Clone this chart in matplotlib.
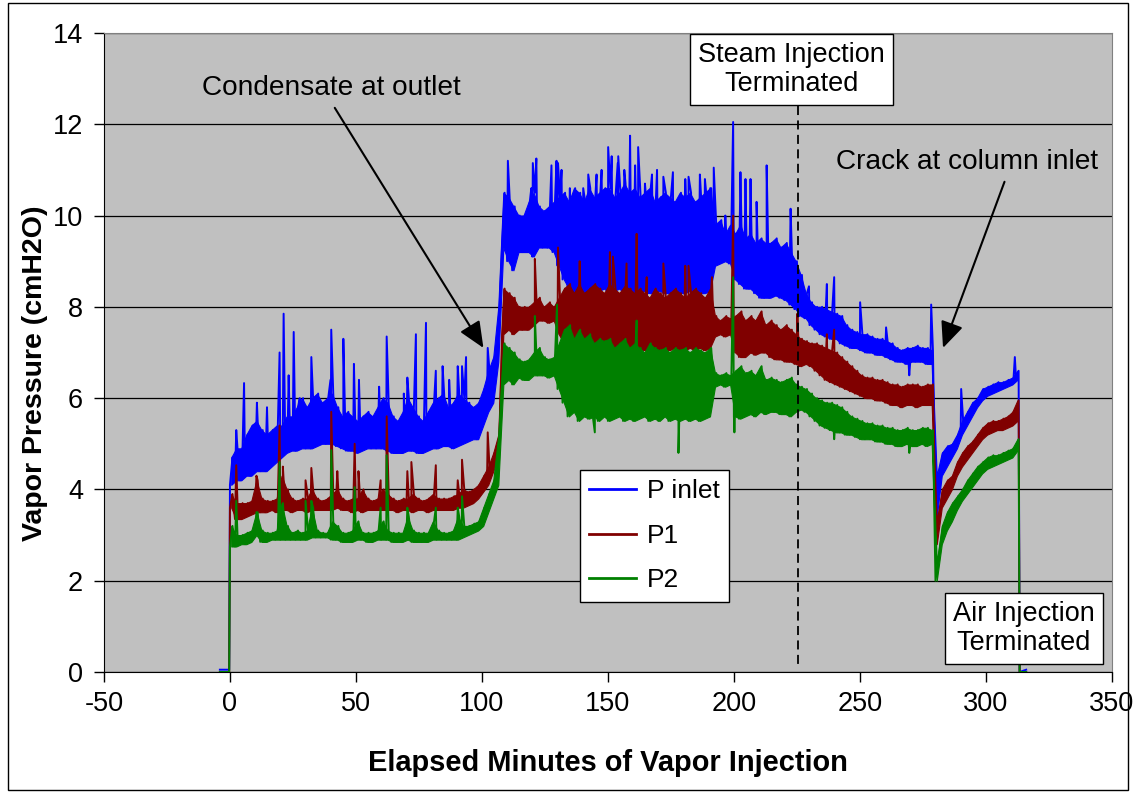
import numpy as np
import matplotlib
matplotlib.use("Agg")
import matplotlib.pyplot as plt
from matplotlib.patches import Rectangle

plt.rcParams['font.family'] = ['Liberation Sans', 'DejaVu Sans']
plt.rcParams['axes.unicode_minus'] = False

# ---------------- data ----------------
# 2-minute sample grid; at each sample the trace dips to the "lo" value,
# one minute later it reaches the "hi" value; isolated spikes listed separately.
T = np.arange(0, 313, 2)

p_inlet_lo = [
    4.1, 4.2, 4.2, 4.3, 4.3, 4.4, 4.4, 4.4, 4.5, 4.6,
    4.7, 4.8, 4.85, 4.85, 4.9, 4.9, 4.9, 4.95, 5.0, 5.0,
    5.0, 4.95, 4.9, 4.85, 4.85, 4.8, 4.85, 4.9, 4.9, 4.9,
    4.9, 4.85, 4.8, 4.8, 4.8, 4.85, 4.85, 4.8, 4.8, 4.85,
    4.9, 4.9, 4.95, 4.95, 4.9, 4.95, 5.0, 5.05, 5.1, 5.1,
    5.4, 5.7, 5.9, 6.8, 9.3, 9.0, 8.8, 9.2, 9.2, 9.2,
    9.1, 9.3, 9.3, 9.3, 9.2, 8.9, 8.6, 8.4, 8.3, 8.3,
    8.3, 8.35, 8.4, 8.35, 8.4, 8.3, 8.35, 8.4, 8.3, 8.35,
    8.3, 8.3, 8.35, 8.3, 8.3, 8.35, 8.3, 8.3, 8.35, 8.3,
    8.3, 8.35, 8.3, 8.3, 8.3, 8.35, 8.9, 8.95, 9.0, 8.95,
    8.6, 8.5, 8.4, 8.4, 8.3, 8.2, 8.2, 8.2, 8.25, 8.2,
    8.15, 8.05, 7.95, 7.8, 7.75, 7.6, 7.5, 7.4, 7.35, 7.3,
    7.3, 7.2, 7.15, 7.1, 7.1, 7.05, 7.0, 7.0, 6.95, 6.95,
    6.9, 6.85, 6.8, 6.8, 6.75, 6.8, 6.8, 6.8, 6.75, 6.75,
    3.4, 4.3, 4.5, 4.7, 4.9, 5.2, 5.4, 5.6, 5.8, 5.95,
    6.05, 6.1, 6.15, 6.2, 6.25, 6.3, 6.4,
]
p_inlet_hi = [
    4.7, 4.9, 4.9, 5.2, 5.4, 5.5, 5.3, 5.2, 5.3, 5.4,
    5.4, 5.6, 5.6, 5.8, 6.0, 5.8, 6.0, 6.1, 5.9, 6.0,
    6.1, 5.8, 5.6, 5.7, 5.6, 5.5, 5.6, 5.7, 5.6, 5.8,
    6.0, 5.9, 5.6, 5.5, 5.7, 6.0, 5.8, 5.6, 5.5, 5.7,
    5.9, 6.0, 6.1, 5.8, 5.9, 6.1, 6.0, 5.9, 5.8, 5.9,
    6.2, 6.6, 6.9, 8.0, 10.5, 10.4, 10.2, 10.0, 10.0, 10.3,
    10.5, 10.2, 10.1, 10.2, 10.3, 10.4, 10.5, 10.3, 10.6, 10.5,
    10.3, 10.6, 10.4, 10.5, 10.6, 10.6, 10.4, 10.5, 10.7, 10.5,
    10.6, 10.4, 10.5, 10.6, 10.3, 10.4, 10.5, 10.4, 10.3, 10.5,
    10.4, 10.5, 10.3, 10.4, 10.5, 10.6, 9.8, 9.9, 9.6, 9.8,
    9.6, 9.8, 9.5, 9.6, 9.4, 9.5, 9.4, 9.4, 9.5, 9.3,
    9.4, 9.2, 9.0, 8.7, 8.3, 8.1, 8.0, 8.0, 7.95, 7.9,
    7.85, 7.8, 7.6, 7.5, 7.45, 7.4, 7.4, 7.35, 7.3, 7.3,
    7.25, 7.2, 7.1, 7.05, 7.1, 7.1, 7.15, 7.1, 7.1, 7.05,
    4.3, 4.8, 4.95, 5.0, 5.2, 5.5, 5.7, 5.9, 6.0, 6.2,
    6.25, 6.3, 6.35, 6.35, 6.4, 6.45, 6.6,
]
p_inlet_spikes = [
    (2.5, 5.3), (5.6, 6.33), (10.7, 5.9), (14.7, 5.8), (19.7, 7.0), (21.3, 7.85),
    (23.3, 6.5), (25.3, 7.45), (27.7, 6.0), (32.3, 6.9), (39.9, 6.4), (40.2, 7.5),
    (45.0, 7.3), (49.2, 6.75), (51.2, 6.4), (59.2, 6.25), (62.2, 7.35), (69.0, 6.1),
    (70.4, 6.45), (73.8, 7.4), (77.8, 7.65), (81.7, 6.6), (84.4, 6.7), (87.0, 6.4),
    (90.4, 6.7), (92.1, 6.7), (93.7, 6.9), (102.3, 7.1), (110.3, 11.2), (119.6, 10.6),
    (120.2, 11.15), (121.6, 11.25), (127.6, 11.1), (129.6, 11.2), (130.2, 11.15),
    (131.6, 11.0), (134.9, 10.6), (140.2, 10.6), (142.2, 10.9), (145.5, 10.9),
    (147.5, 11.0), (150.1, 11.5), (151.5, 11.3), (153.9, 11.15), (154.1, 11.3),
    (156.5, 11.0), (158.8, 11.75), (160.8, 11.1), (162.0, 11.5), (164.7, 10.7),
    (167.5, 10.9), (169.5, 11.0), (172.0, 10.85), (175.8, 10.95), (180.7, 10.8),
    (182.0, 10.85), (186.5, 10.9), (188.5, 10.8), (190.6, 10.6), (192.0, 11.05),
    (196.6, 10.0), (199.7, 12.05), (202.6, 10.95), (204.6, 10.8), (206.6, 10.8),
    (209.0, 10.3), (213.0, 11.1), (222.5, 10.15), (229.8, 8.45), (236.9, 8.5),
    (239.8, 8.65), (250.1, 8.1), (260.4, 7.55), (269.6, 6.5), (278.3, 8.05),
    (290.2, 6.2), (311.5, 6.9),
]

p1_lo = [
    3.6, 3.35, 3.35, 3.4, 3.45, 3.5, 3.5, 3.5, 3.55, 3.5,
    3.55, 3.55, 3.5, 3.55, 3.55, 3.5, 3.55, 3.55, 3.55, 3.55,
    3.55, 3.6, 3.55, 3.55, 3.5, 3.55, 3.5, 3.55, 3.55, 3.55,
    3.55, 3.55, 3.55, 3.5, 3.55, 3.55, 3.5, 3.55, 3.55, 3.5,
    3.55, 3.55, 3.55, 3.55, 3.55, 3.6, 3.6, 3.65, 3.7, 3.8,
    3.95, 4.1, 4.4, 4.7, 7.4, 7.5, 7.4, 7.5, 7.5, 7.5,
    7.6, 7.7, 7.7, 7.65, 7.7, 7.4, 7.2, 7.0, 7.1, 7.0,
    7.1, 7.05, 7.1, 7.05, 7.1, 7.0, 7.1, 7.05, 7.1, 7.05,
    7.05, 7.1, 7.05, 7.1, 7.05, 7.05, 7.1, 7.05, 7.1, 7.05,
    7.05, 7.1, 7.05, 7.1, 7.05, 7.1, 7.35, 7.4, 7.35, 7.4,
    7.0, 6.9, 6.9, 7.0, 6.95, 7.0, 7.0, 6.9, 6.85, 6.85,
    6.8, 6.8, 6.75, 6.7, 6.75, 6.7, 6.6, 6.5, 6.4, 6.35,
    6.3, 6.25, 6.2, 6.15, 6.1, 6.05, 6.0, 6.0, 5.95, 5.95,
    5.9, 5.85, 5.85, 5.8, 5.85, 5.85, 5.8, 5.85, 5.85, 5.85,
    2.8, 3.6, 3.8, 4.0, 4.3, 4.5, 4.65, 4.8, 4.95, 5.1,
    5.2, 5.25, 5.3, 5.3, 5.35, 5.4, 5.5,
]
p1_hi = [
    3.9, 3.7, 3.7, 3.7, 3.75, 4.2, 3.8, 3.75, 3.75, 3.8,
    4.3, 4.0, 3.8, 3.75, 3.8, 3.8, 4.0, 3.8, 3.75, 3.8,
    3.9, 4.0, 3.8, 3.75, 3.8, 3.8, 4.0, 3.8, 3.75, 3.8,
    4.0, 3.9, 3.8, 3.75, 3.8, 3.8, 3.9, 3.8, 3.75, 3.8,
    3.9, 3.8, 3.8, 3.8, 3.85, 3.9, 4.0, 3.95, 4.0, 4.1,
    4.3, 4.5, 4.8, 5.2, 8.4, 8.3, 8.2, 8.0, 8.0, 8.0,
    8.1, 8.2, 8.0, 8.1, 8.0, 8.2, 8.4, 8.5, 8.3, 8.5,
    8.3, 8.4, 8.5, 8.4, 8.3, 8.5, 8.4, 8.3, 8.45, 8.4,
    8.3, 8.4, 8.3, 8.2, 8.4, 8.3, 8.2, 8.3, 8.4, 8.3,
    8.2, 8.3, 8.4, 8.3, 8.2, 8.4, 7.8, 7.7, 7.8, 7.75,
    7.8, 7.9, 7.7, 7.8, 7.7, 7.9, 7.6, 7.7, 7.6, 7.5,
    7.6, 7.5, 7.4, 7.3, 7.25, 7.2, 7.2, 7.15, 7.1, 7.05,
    7.0, 6.9, 6.8, 6.7, 6.6, 6.5, 6.45, 6.45, 6.4, 6.4,
    6.35, 6.3, 6.3, 6.25, 6.3, 6.3, 6.3, 6.25, 6.3, 6.3,
    3.3, 4.0, 4.2, 4.3, 4.6, 4.8, 4.95, 5.05, 5.2, 5.35,
    5.45, 5.5, 5.5, 5.55, 5.6, 5.7, 5.95,
]
p1_spikes = [
    (2.5, 4.53), (10.5, 4.3), (19.7, 5.4), (21.0, 4.5), (30.0, 4.2), (32.3, 4.47),
    (40.2, 5.7), (42.6, 4.4), (49.5, 5.0), (51.0, 4.4), (59.8, 4.2), (62.2, 5.6),
    (70.4, 4.4), (72.0, 4.6), (81.7, 4.53), (90.4, 4.2), (92.1, 4.65), (102.3, 5.25),
    (121.0, 9.05), (130.2, 9.3), (138.8, 9.0), (144.8, 6.25), (150.8, 9.2), (152.0, 9.1),
    (157.4, 8.95), (161.4, 9.6), (165.4, 8.65), (172.0, 8.95), (180.7, 8.9),
    (182.0, 8.9), (191.3, 8.65), (199.7, 10.0), (225.2, 7.85), (236.9, 7.4),
    (239.8, 7.5),
]

p2_lo = [
    2.75, 2.75, 2.8, 2.8, 2.85, 3.0, 2.85, 2.85, 2.9, 2.9,
    2.9, 2.9, 2.9, 2.9, 2.9, 2.9, 2.95, 2.95, 2.95, 2.95,
    2.9, 2.9, 2.85, 2.85, 2.85, 2.9, 2.9, 2.85, 2.85, 2.9,
    2.9, 2.9, 2.85, 2.85, 2.85, 2.9, 2.85, 2.85, 2.85, 2.85,
    2.9, 2.9, 2.9, 2.9, 2.9, 2.9, 2.95, 3.0, 3.05, 3.1,
    3.2, 3.5, 3.8, 4.1, 6.3, 6.4, 6.3, 6.45, 6.4, 6.4,
    6.5, 6.5, 6.5, 6.45, 6.5, 6.2, 5.9, 5.6, 5.7, 5.5,
    5.6, 5.55, 5.6, 5.5, 5.6, 5.5, 5.55, 5.6, 5.5, 5.55,
    5.5, 5.55, 5.6, 5.5, 5.55, 5.5, 5.6, 5.5, 5.55, 5.5,
    5.55, 5.5, 5.55, 5.5, 5.55, 5.6, 6.25, 6.3, 6.25, 6.3,
    5.6, 5.55, 5.6, 5.65, 5.6, 5.7, 5.65, 5.7, 5.7, 5.65,
    5.65, 5.6, 5.7, 5.75, 5.7, 5.6, 5.5, 5.4, 5.35, 5.3,
    5.25, 5.25, 5.2, 5.2, 5.15, 5.1, 5.1, 5.1, 5.05, 5.05,
    5.0, 5.0, 4.95, 4.95, 5.0, 4.95, 4.95, 5.0, 4.95, 5.0,
    2.0, 2.8, 3.1, 3.3, 3.55, 3.75, 3.9, 4.05, 4.2, 4.35,
    4.45, 4.5, 4.55, 4.6, 4.65, 4.7, 4.85,
]
p2_hi = [
    3.2, 3.0, 3.0, 3.05, 3.1, 3.5, 3.1, 3.05, 3.05, 3.1,
    3.7, 3.2, 3.05, 3.1, 3.05, 3.1, 3.6, 3.1, 3.05, 3.05,
    3.3, 3.2, 3.05, 3.05, 3.1, 3.3, 3.05, 3.05, 3.05, 3.1,
    3.3, 3.1, 3.05, 3.05, 3.05, 3.4, 3.1, 3.05, 3.05, 3.05,
    3.3, 3.1, 3.05, 3.05, 3.1, 3.4, 3.2, 3.2, 3.25, 3.3,
    3.6, 3.9, 4.2, 5.2, 7.2, 7.1, 7.0, 6.85, 6.8, 6.85,
    7.0, 7.1, 6.9, 6.85, 6.9, 7.2, 7.5, 7.6, 7.3, 7.5,
    7.3, 7.4, 7.2, 7.3, 7.25, 7.3, 7.1, 7.2, 7.3, 7.1,
    7.2, 7.1, 7.0, 7.2, 7.1, 7.05, 7.1, 7.0, 7.1, 7.05,
    7.1, 7.0, 7.1, 7.05, 7.0, 7.1, 6.55, 6.5, 6.55, 6.5,
    6.6, 6.7, 6.55, 6.6, 6.5, 6.7, 6.4, 6.45, 6.4, 6.35,
    6.4, 6.45, 6.3, 6.25, 6.2, 6.1, 6.0, 5.95, 5.9, 5.9,
    5.85, 5.8, 5.7, 5.6, 5.55, 5.5, 5.45, 5.45, 5.4, 5.4,
    5.35, 5.35, 5.3, 5.3, 5.35, 5.3, 5.3, 5.35, 5.35, 5.3,
    2.4, 3.2, 3.5, 3.7, 3.85, 4.0, 4.2, 4.35, 4.5, 4.6,
    4.7, 4.75, 4.75, 4.8, 4.85, 4.9, 5.1,
]
p2_spikes = [
    (2.5, 3.75), (10.5, 3.5), (19.7, 4.6), (30.0, 3.75), (32.3, 3.75), (40.2, 4.86),
    (49.5, 4.05), (59.8, 3.6), (62.2, 4.75), (70.4, 3.6), (81.7, 3.6), (90.4, 3.6),
    (92.1, 3.85), (121.0, 7.8), (129.8, 8.05), (144.8, 5.25), (161.4, 7.7), (178.0, 4.8),
    (199.7, 8.65), (200.2, 5.25), (239.8, 5.1), (269.6, 4.8),
]

# readings before injection starts and after air injection stops
pre_t = [-4.0, -0.3]
pre_inlet = [0.05, 0.05]
pre_other = [0.0, 0.0]
post_t = [313.4, 316.0]
post_inlet = [0.0, 0.05]
post_other = [0.0, 0.0]

series_names = ["P inlet", "P1", "P2"]
series_colors = ["#0000FF", "#800000", "#008000"]

steam_end_t = 225.3


def build(lo, hi, spikes, pre_v, post_v):
    pts = list(zip(pre_t, pre_v))
    for t, a, b in zip(T, lo, hi):
        pts.append((float(t), a))
        pts.append((float(t) + 1.0, b))
    pts += spikes
    pts += list(zip(post_t, post_v))
    pts.sort(key=lambda p: p[0])
    return [p[0] for p in pts], [p[1] for p in pts]


# ---------------- figure ----------------
fig = plt.figure(figsize=(11.35, 7.93), dpi=100)
ax = fig.add_axes([0.0916, 0.1526, 0.888, 0.8058])
ax.set_facecolor("#C0C0C0")

fig.patches.append(Rectangle((0.007, 0.004), 0.987, 0.992, transform=fig.transFigure,
                             fill=False, edgecolor="black", linewidth=1.0))

data = [
    (p_inlet_lo, p_inlet_hi, p_inlet_spikes, pre_inlet, post_inlet),
    (p1_lo, p1_hi, p1_spikes, pre_other, post_other),
    (p2_lo, p2_hi, p2_spikes, pre_other, post_other),
]
for (lo, hi, sp, pv, qv), name, col in zip(data, series_names, series_colors):
    ax.fill_between(T + 0.5, lo, hi, color=col, linewidth=0.8, zorder=3)
    x, y = build(lo, hi, sp, pv, qv)
    ax.plot(x, y, color=col, linewidth=1.4, label=name, zorder=3)

ax.set_xlim(-50, 350)
ax.set_ylim(0, 14)
ax.set_xticks(np.arange(-50, 351, 50))
ax.set_yticks(np.arange(0, 15, 2))
ax.yaxis.grid(True, color="black", linewidth=0.9)
ax.set_axisbelow(True)
ax.tick_params(direction="out", length=7, width=1, labelsize=19.5, color="black")
ax.tick_params(axis="x", pad=7)
ax.tick_params(axis="y", pad=8)
for s in ("top", "right"):
    ax.spines[s].set_color("#808080")
for s in ("left", "bottom"):
    ax.spines[s].set_color("black")

ax.set_xlabel("Elapsed Minutes of Vapor Injection", fontsize=20.9, fontweight="bold", labelpad=23)
ax.set_ylabel("Vapor Pressure (cmH2O)", fontsize=20.5, fontweight="bold")
ax.yaxis.set_label_coords(-0.0556, 0.468)

# dashed steam-termination line
ax.plot([steam_end_t, steam_end_t], [12.4, 0.08], color="black", linestyle=(0, (5, 3)),
        linewidth=1.3, zorder=4)

box = dict(boxstyle="square,pad=0.3", facecolor="white", edgecolor="black", linewidth=1.0)
ax.text(222.9, 13.2, "Steam Injection\nTerminated", ha="center", va="center", fontsize=19.5,
        bbox=box, linespacing=1.15, zorder=6)
ax.text(315.0, 0.95, "Air Injection\nTerminated", ha="center", va="center", fontsize=19.5,
        bbox=box, linespacing=1.15, zorder=6)

arrowprops = dict(arrowstyle="-|>,head_length=1.6,head_width=0.7", color="black",
                  linewidth=1.5, shrinkA=0, shrinkB=0)
ax.text(40.4, 12.8, "Condensate at outlet", ha="center", va="center", fontsize=20.2, zorder=6)
ax.annotate("", xy=(100.6, 7.1), xytext=(41.6, 12.36), arrowprops=arrowprops, zorder=6)
ax.text(292.6, 11.17, "Crack at column inlet", ha="center", va="center", fontsize=20.2, zorder=6)
ax.annotate("", xy=(283.0, 7.1), xytext=(307.4, 10.74), arrowprops=arrowprops, zorder=6)

leg = ax.legend(loc="upper left", bbox_to_anchor=(0.472, 0.316), fontsize=19,
                frameon=True, fancybox=False, framealpha=1.0, handlelength=1.8,
                borderpad=0.35, labelspacing=0.78, handletextpad=0.4, borderaxespad=0.0)
leg.get_frame().set_edgecolor("black")
leg.get_frame().set_facecolor("white")
leg.get_frame().set_linewidth(1.0)
leg.set_zorder(7)
for h in leg.get_lines():
    h.set_linewidth(2.0)

fig.savefig("out.png", dpi=100)
